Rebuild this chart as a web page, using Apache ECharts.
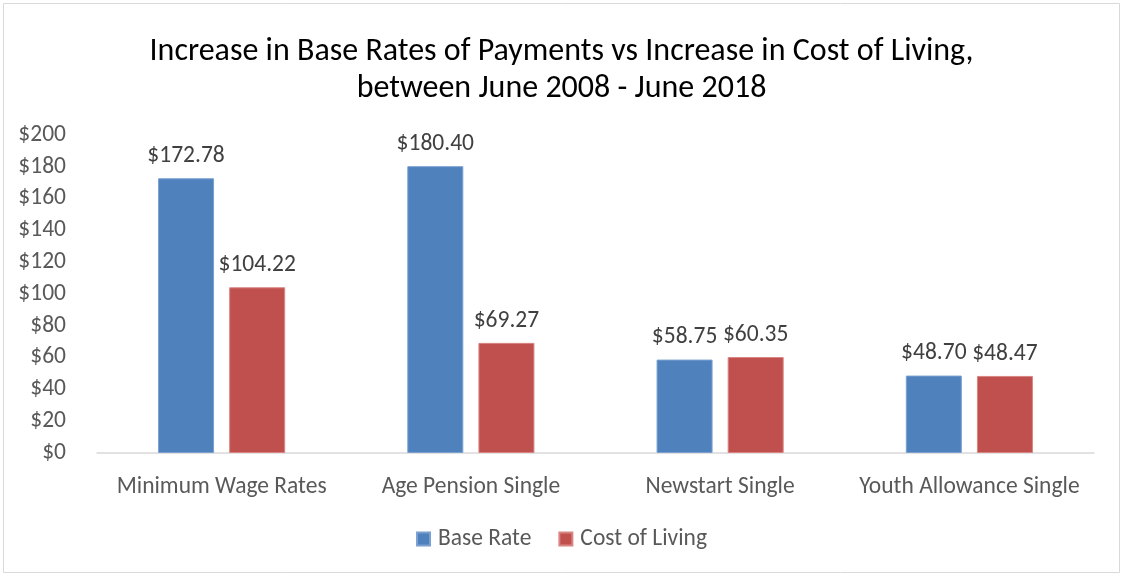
<!DOCTYPE html>
<html><head><meta charset="utf-8">
<script src="https://cdn.jsdelivr.net/npm/echarts@6/dist/echarts.min.js"></script>
<style>html,body{margin:0;padding:0;background:#fff}#c{width:1123px;height:576px}</style>
</head><body><div id="c"></div>
<script>
const categories = ['Minimum Wage Rates', 'Age Pension Single', 'Newstart Single', 'Youth Allowance Single'];
const baseRate = [172.78, 180.40, 58.75, 48.70];
const costOfLiving = [104.22, 69.27, 60.35, 48.47];
const seriesNames = ['Base Rate', 'Cost of Living'];

const chart = echarts.init(document.getElementById('c'));
const font = 'Carlito, "Open Sans", "Noto Sans", sans-serif';
const fs = 23.5;
const lbl = {show: true, position: 'top', distance: 10, color: '#404040', fontSize: fs, fontFamily: font,
  formatter: p => '$' + p.value.toFixed(2)};
chart.setOption({
  animation: false,
  graphic: [{type: 'rect', shape: {x: 3.5, y: 3.5, width: 1116, height: 569}, style: {fill: 'none', stroke: '#d9d9d9', lineWidth: 1}}],
  title: {
    text: 'Increase in Base Rates of Payments vs Increase in Cost of Living,\nbetween June 2008 - June 2018',
    left: 'center', top: 28,
    textStyle: {fontSize: 32, fontWeight: 'normal', color: '#000', fontFamily: font, lineHeight: 37}
  },
  legend: {
    data: seriesNames, bottom: 20, left: 'center', itemWidth: 13, itemHeight: 13, itemGap: 27,
    icon: 'rect',
    textStyle: {fontSize: fs, color: '#595959', fontFamily: font, padding: [0, 0, 0, 3]}
  },
  grid: {left: 97, right: 29, top: 135, bottom: 123},
  xAxis: {
    type: 'category', data: categories,
    axisLine: {lineStyle: {color: '#d9d9d9', width: 1.5}},
    axisTick: {show: false},
    axisLabel: {fontSize: fs, color: '#595959', fontFamily: font, margin: 22, interval: 0}
  },
  yAxis: {
    type: 'value', min: 0, max: 200, interval: 20,
    splitLine: {show: false}, axisLine: {show: false}, axisTick: {show: false},
    axisLabel: {fontSize: fs, color: '#595959', fontFamily: font, formatter: v => '$' + v, margin: 31}
  },
  series: [
    {name: seriesNames[0], type: 'bar', data: baseRate, barWidth: 56, barGap: '27%',
     itemStyle: {color: '#4F81BD', borderColor: '#7ba0d0', borderWidth: 1}, label: lbl},
    {name: seriesNames[1], type: 'bar', data: costOfLiving, barWidth: 56,
     itemStyle: {color: '#C0504D', borderColor: '#d98583', borderWidth: 1}, label: lbl}
  ]
});
</script></body></html>
